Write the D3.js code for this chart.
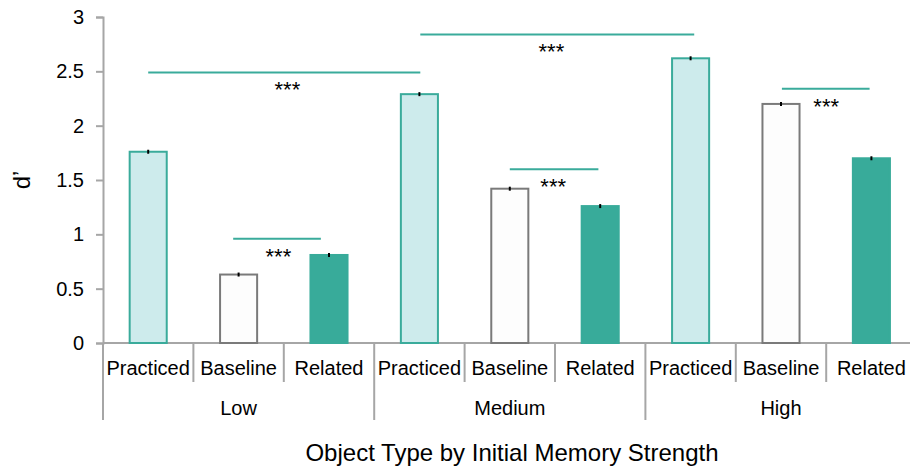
<!DOCTYPE html>
<html>
<head>
<meta charset="utf-8">
<script src="https://cdn.jsdelivr.net/npm/d3@7"></script>
<style>
  html, body { margin: 0; padding: 0; background: #fff; }
  svg { display: block; font-family: "Liberation Sans", Arial, sans-serif; }
</style>
</head>
<body>
<svg id="chart" width="910" height="468"></svg>
<script>
// ---- data ----
const groups = ["Low", "Medium", "High"];
const types = ["Practiced", "Baseline", "Related"];
const lowValues = [1.76, 0.63, 0.81];
const mediumValues = [2.29, 1.42, 1.26];
const highValues = [2.62, 2.20, 1.70];
const lowErrors = [0.015, 0.008, 0.015];
const mediumErrors = [0.015, 0.008, 0.015];
const highErrors = [0.012, 0.010, 0.015];
const yTicks = [0, 0.5, 1, 1.5, 2, 2.5, 3];
// significance brackets: start/end in category units, bracket height (d'), star position
const sigStart = [0.50, 1.44, 3.51, 4.50, 7.51];
const sigEnd = [3.51, 2.41, 6.54, 5.48, 8.48];
const sigLevel = [2.49, 0.96, 2.84, 1.60, 2.34];
const sigStarPos = [2.04, 1.94, 4.96, 4.98, 8.00];
const sigLabel = ["***", "***", "***", "***", "***"];

const valuesByGroup = [lowValues, mediumValues, highValues];
const errorsByGroup = [lowErrors, mediumErrors, highErrors];
const rows = [];
groups.forEach((g, gi) => types.forEach((t, ti) => rows.push({
  key: g + "-" + t, group: g, type: t, value: valuesByGroup[gi][ti], err: errorsByGroup[gi][ti]
})));

// ---- layout ----
const plotLeft = 103, plotTop = 17, plotBottom = 343;
const step = 90.4;
const plotRight = plotLeft + step * rows.length;

const svg = d3.select("#chart");
const y = d3.scaleLinear().domain([0, 3]).range([plotBottom, plotTop]);
const x = d3.scaleBand().domain(rows.map(d => d.key)).range([plotLeft, plotRight])
  .paddingInner(0.59).paddingOuter(0.295);
const u = d3.scaleLinear().domain([0, rows.length]).range([plotLeft, plotRight]); // category units

const axisColor = "#a6a6a6";
const teal = "#38ab9a";
const fills = { Practiced: "#cdebec", Baseline: "#fdfdfd", Related: teal };
const strokes = { Practiced: "#3aab9b", Baseline: "#7a7a7a", Related: teal };
const FONT = "'Liberation Sans', Arial, sans-serif";

// y axis
const yAxis = svg.append("g").attr("transform", `translate(${plotLeft},0)`)
  .call(d3.axisLeft(y).tickValues(yTicks).tickFormat(d3.format("")).tickSize(7).tickPadding(12));
yAxis.select(".domain").attr("stroke", axisColor).attr("stroke-width", 2);
yAxis.selectAll(".tick line").attr("stroke", axisColor).attr("stroke-width", 2);
yAxis.selectAll(".tick text").attr("fill", "#000").style("font-size", "20px")
  .style("font-family", FONT);

// x axis baseline
svg.append("line").attr("x1", plotLeft).attr("x2", plotRight + 5).attr("y1", plotBottom).attr("y2", plotBottom)
  .attr("stroke", axisColor).attr("stroke-width", 2);

// category dividers
d3.range(rows.length + 1).forEach(k => {
  const isGroup = k % 3 === 0;
  svg.append("line").attr("x1", u(k)).attr("x2", u(k))
    .attr("y1", plotBottom).attr("y2", isGroup ? 420 : 382)
    .attr("stroke", axisColor).attr("stroke-width", 2);
});

// bars
svg.selectAll("rect.bar").data(rows).enter().append("rect")
  .attr("class", "bar")
  .attr("x", d => x(d.key))
  .attr("width", x.bandwidth())
  .attr("y", d => y(d.value))
  .attr("height", d => y(0) - y(d.value))
  .attr("fill", d => fills[d.type])
  .attr("stroke", d => strokes[d.type])
  .attr("stroke-width", 2);

// error bars
svg.selectAll("line.err").data(rows).enter().append("line")
  .attr("x1", d => x(d.key) + x.bandwidth() / 2)
  .attr("x2", d => x(d.key) + x.bandwidth() / 2)
  .attr("y1", d => Math.min(y(d.value + d.err), y(d.value) - 2))
  .attr("y2", d => Math.max(y(d.value - d.err), y(d.value) + 2))
  .attr("stroke", "#000").attr("stroke-width", 2);

// category labels
svg.selectAll("text.cat").data(rows).enter().append("text")
  .attr("x", d => x(d.key) + x.bandwidth() / 2)
  .attr("y", 375)
  .attr("text-anchor", "middle")
  .style("font-size", "20px").style("font-family", FONT)
  .text(d => d.type);

// group labels
groups.forEach((g, gi) => {
  svg.append("text").attr("x", u(gi * 3 + 1.5)).attr("y", 415)
    .attr("text-anchor", "middle").style("font-size", "20px").style("font-family", FONT).text(g);
});

// significance
sigStart.forEach((s, i) => {
  svg.append("line").attr("x1", u(s)).attr("x2", u(sigEnd[i]))
    .attr("y1", y(sigLevel[i])).attr("y2", y(sigLevel[i]))
    .attr("stroke", "#3aab9b").attr("stroke-width", 2);
  svg.append("text").attr("x", u(sigStarPos[i])).attr("y", y(sigLevel[i]) + 25)
    .attr("text-anchor", "middle").style("font-size", "22px").style("font-family", FONT).text(sigLabel[i]);
});

// axis titles
svg.append("text").attr("x", 512).attr("y", 461).attr("text-anchor", "middle")
  .style("font-size", "24px").style("font-family", FONT).text("Object Type by Initial Memory Strength");
svg.append("text").attr("transform", "translate(30,180) rotate(-90)")
  .attr("text-anchor", "middle").style("font-size", "24px").style("font-family", FONT).text("d’");
</script>
</body>
</html>
